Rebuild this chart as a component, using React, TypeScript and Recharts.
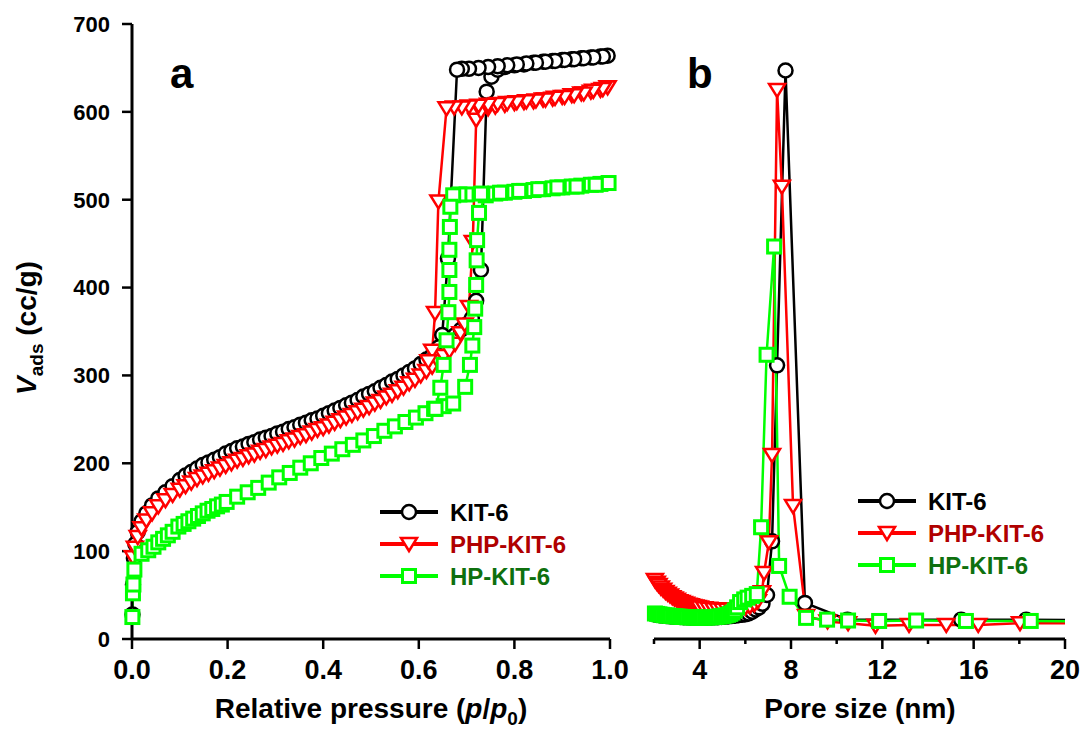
import React from "react";
import { LineChart, Line, XAxis, YAxis, Legend } from "recharts";

const FONT = "'Liberation Sans', Arial, Helvetica, sans-serif";

// (a) N2 isotherms: [p/p0, V_ads (cc/g)], adsorption branch first, then desorption
const kit6Isotherm: [number, number][] = [
  [0.001, 28], [0.002, 62], [0.004, 92], [0.007, 108], [0.012, 122], [0.02, 134], [0.03, 143],
  [0.042, 152], [0.055, 160], [0.07, 167], [0.085, 174], [0.1, 181], [0.112, 186], [0.124, 190],
  [0.136, 194], [0.148, 198], [0.16, 201], [0.172, 204], [0.184, 207], [0.196, 211], [0.208, 214],
  [0.22, 217], [0.232, 219], [0.244, 222], [0.256, 224], [0.268, 227], [0.28, 229], [0.292, 231],
  [0.304, 234], [0.316, 236], [0.328, 239], [0.34, 241], [0.352, 244], [0.364, 246], [0.376, 249],
  [0.388, 251], [0.4, 254], [0.412, 257], [0.424, 260], [0.436, 263], [0.448, 266], [0.46, 269],
  [0.472, 272], [0.484, 276], [0.496, 279], [0.508, 282], [0.52, 286], [0.532, 289], [0.544, 293],
  [0.556, 296], [0.568, 300], [0.58, 304], [0.592, 308], [0.604, 313], [0.616, 318], [0.628, 323],
  [0.64, 328], [0.652, 334], [0.664, 340], [0.676, 346], [0.688, 352], [0.7, 358], [0.711, 365],
  [0.72, 385], [0.73, 420], [0.742, 623], [0.752, 640], [0.765, 648], [0.78, 651], [0.8, 653],
  [0.82, 654], [0.84, 656], [0.86, 657], [0.88, 658], [0.9, 659], [0.92, 660], [0.94, 661],
  [0.96, 662], [0.98, 663], [0.995, 664],
  [0.985, 663], [0.965, 662], [0.945, 661], [0.925, 660], [0.905, 659], [0.885, 658], [0.865, 657],
  [0.845, 656], [0.825, 655], [0.805, 654], [0.785, 653], [0.765, 652], [0.745, 651], [0.725, 650],
  [0.705, 649], [0.69, 649], [0.68, 648], [0.661, 433], [0.649, 346], [0.642, 332], [0.635, 325],
];

const phpIsotherm: [number, number][] = [
  [0.002, 93], [0.006, 104], [0.012, 116], [0.02, 126], [0.03, 135], [0.042, 143], [0.055, 151],
  [0.07, 158], [0.085, 164], [0.1, 170], [0.112, 174], [0.124, 178], [0.136, 182], [0.148, 185],
  [0.16, 188], [0.172, 191], [0.184, 194], [0.196, 197], [0.208, 200], [0.22, 203], [0.232, 205],
  [0.244, 208], [0.256, 210], [0.268, 213], [0.28, 215], [0.292, 218], [0.304, 220], [0.316, 222],
  [0.328, 225], [0.34, 227], [0.352, 230], [0.364, 232], [0.376, 235], [0.388, 238], [0.4, 240],
  [0.412, 243], [0.424, 246], [0.436, 249], [0.448, 252], [0.46, 255], [0.472, 258], [0.484, 261],
  [0.496, 264], [0.508, 268], [0.52, 271], [0.532, 275], [0.544, 278], [0.556, 282], [0.568, 286],
  [0.58, 291], [0.592, 295], [0.604, 300], [0.616, 305], [0.628, 310], [0.64, 316], [0.652, 322],
  [0.664, 328], [0.676, 336], [0.687, 348], [0.696, 358], [0.705, 378], [0.713, 452], [0.72, 591],
  [0.73, 600], [0.745, 604], [0.76, 606], [0.78, 608], [0.8, 610], [0.82, 611], [0.84, 612],
  [0.86, 614], [0.88, 615], [0.9, 617], [0.92, 619], [0.94, 621], [0.96, 623], [0.98, 625],
  [0.995, 628],
  [0.985, 626], [0.965, 624], [0.945, 621], [0.925, 619], [0.905, 617], [0.885, 616], [0.865, 614],
  [0.845, 613], [0.825, 612], [0.805, 611], [0.785, 610], [0.765, 609], [0.745, 608], [0.725, 607],
  [0.705, 606], [0.69, 605], [0.674, 605], [0.658, 604], [0.641, 498], [0.634, 371], [0.628, 328],
  [0.62, 316],
];

const hpIsotherm: [number, number][] = [
  [0.0008, 25], [0.002, 52], [0.003, 62], [0.005, 79], [0.02, 97], [0.034, 101], [0.045, 105],
  [0.055, 110], [0.065, 114], [0.075, 118], [0.085, 122], [0.097, 128], [0.108, 131], [0.118, 134],
  [0.128, 137], [0.138, 140], [0.148, 143], [0.158, 146], [0.168, 148], [0.178, 151], [0.188, 153],
  [0.198, 156], [0.22, 162], [0.242, 167], [0.264, 172], [0.286, 178], [0.308, 184], [0.33, 189],
  [0.352, 195], [0.374, 200], [0.396, 206], [0.418, 211], [0.44, 216], [0.462, 221], [0.484, 226],
  [0.506, 231], [0.528, 237], [0.55, 242], [0.572, 247], [0.594, 252], [0.614, 257], [0.632, 262],
  [0.652, 265], [0.672, 268], [0.697, 287], [0.707, 312], [0.712, 334], [0.716, 355], [0.718, 376],
  [0.72, 403], [0.721, 431], [0.722, 454], [0.726, 485], [0.74, 505], [0.76, 507], [0.78, 508],
  [0.8, 509], [0.82, 510], [0.84, 511], [0.86, 512], [0.88, 513], [0.9, 514], [0.92, 515],
  [0.94, 516], [0.96, 517], [0.98, 518], [0.997, 519],
  [0.97, 517], [0.93, 515], [0.89, 514], [0.85, 512], [0.81, 510], [0.77, 508], [0.73, 507],
  [0.7, 506], [0.685, 506], [0.672, 505], [0.666, 492], [0.665, 469], [0.664, 443], [0.664, 420],
  [0.664, 395], [0.662, 372], [0.658, 340], [0.652, 312], [0.645, 286], [0.635, 262],
];

// (b) pore size distributions: [pore size (nm), value on the shared 0-700 scale]
const kit6Pores: [number, number][] = [
  [2.1, 27.5], [2.25, 27], [2.4, 26.5], [2.55, 26], [2.7, 25.8], [2.85, 25.5], [3.0, 25.3],
  [3.15, 25], [3.3, 24.8], [3.45, 24.6], [3.6, 24.5], [3.75, 24.4], [3.9, 24.3], [4.05, 24.3],
  [4.2, 24.3], [4.35, 24.4], [4.5, 24.5], [4.65, 24.6], [4.8, 24.8], [4.95, 25], [5.1, 25.3],
  [5.25, 25.6], [5.4, 26], [5.55, 26.5], [5.7, 27], [5.85, 27.5], [6.0, 28], [6.15, 29],
  [6.3, 31], [6.45, 33.5], [6.6, 36], [6.75, 40], [6.95, 50], [7.17, 111], [7.39, 311],
  [7.76, 646], [8.61, 41], [10.47, 22], [15.45, 22], [18.3, 22], [22, 21],
];

const phpPores: [number, number][] = [
  [2.04, 67], [2.12, 64], [2.2, 61.5], [2.3, 58.5], [2.4, 56], [2.5, 53.5], [2.6, 51.5],
  [2.7, 49.5], [2.8, 47.5], [2.9, 46], [3.0, 44.5], [3.1, 43], [3.2, 42], [3.3, 41], [3.4, 40],
  [3.5, 39], [3.6, 38.3], [3.7, 37.6], [3.8, 37], [3.9, 36.4], [4.0, 35.8], [4.2, 35], [4.4, 34.3],
  [4.6, 33.8], [4.8, 33.4], [5.0, 33.2], [5.2, 33.2], [5.4, 33.4], [5.6, 33.8], [5.8, 34.5],
  [6.0, 35.5], [6.2, 37], [6.4, 39.5], [6.55, 43], [6.73, 53], [6.82, 75], [7.03, 110],
  [7.17, 209], [7.39, 624], [7.6, 514], [8.09, 151], [8.66, 26], [9.6, 20], [10.5, 18],
  [11.7, 15], [13.17, 16], [14.8, 16], [16.2, 16], [18.03, 18], [22, 18],
];

const hpPores: [number, number][] = [
  [2.04, 29], [2.14, 28.5], [2.24, 28], [2.34, 27.5], [2.44, 27], [2.54, 26.8], [2.64, 26.5],
  [2.74, 26.2], [2.84, 26], [2.94, 25.8], [3.04, 25.5], [3.14, 25.3], [3.24, 25.1], [3.34, 25],
  [3.44, 24.8], [3.54, 24.7], [3.64, 24.6], [3.74, 24.5], [3.84, 24.5], [3.94, 24.4], [4.04, 24.4],
  [4.14, 24.4], [4.24, 24.5], [4.34, 24.5], [4.44, 24.6], [4.54, 24.8], [4.64, 25], [4.74, 25.2],
  [4.84, 25.5], [4.94, 25.8], [5.04, 26.2], [5.14, 26.8], [5.24, 27.5], [5.34, 28.5], [5.44, 30],
  [5.54, 32.5], [5.64, 36], [5.77, 42], [5.95, 45], [6.1, 47], [6.3, 49], [6.5, 51], [6.69, 127],
  [6.93, 323], [7.26, 446], [7.48, 83], [7.94, 48], [8.66, 24], [9.58, 22], [10.5, 21],
  [11.86, 20.5], [13.48, 21], [15.66, 20.5], [18.5, 20.5], [22, 20],
];

const pressureTicks = [0, 0.2, 0.4, 0.6, 0.8, 1];
const volumeTicks = [0, 100, 200, 300, 400, 500, 600, 700];
const poreTicks = [2, 4, 6, 8, 10, 12, 14, 16, 18, 20];

const seriesNames = ["KIT-6", "PHP-KIT-6", "HP-KIT-6"];
const lineColors = ["#000000", "#ff0000", "#00ff00"];
const labelColors = ["#000000", "#b00000", "#0e700e"];
const markerShapes = ["circle", "triangle", "square"];

const toPoints = (rows: [number, number][]) => rows.map(([x, y]) => ({ x, y }));

const axisStyle = { stroke: "#000", strokeWidth: 3 };
const tickStyle = { stroke: "#000", strokeWidth: 2.5 };
const xTickFont = { fill: "#000", fontSize: 27, fontWeight: 700, fontFamily: FONT };
const yTickFont = { fill: "#000", fontSize: 22, fontWeight: 700, fontFamily: FONT };

function Marker({ shape, cx, cy, color }: { shape: string; cx: number; cy: number; color: string }) {
  if (cx == null || cy == null) return null;
  if (shape === "circle") {
    return <circle cx={cx} cy={cy} r={7} fill="#fff" stroke={color} strokeWidth={2.5} />;
  }
  if (shape === "triangle") {
    return (
      <polygon
        points={`${cx - 8},${cy - 6} ${cx + 8},${cy - 6} ${cx},${cy + 7}`}
        fill="#fff"
        stroke={color}
        strokeWidth={2.5}
      />
    );
  }
  return <rect x={cx - 6.5} y={cy - 6.5} width={13} height={13} fill="#fff" stroke={color} strokeWidth={3} />;
}

const dotFor = (i: number) => (props: any) => (
  <Marker key={`m-${i}-${props.index}`} shape={markerShapes[i]} cx={props.cx} cy={props.cy} color={lineColors[i]} />
);

// legend drawn as its own little svg inside the recharts legend wrapper
function SeriesKey() {
  return (
    <svg width={200} height={100} style={{ overflow: "visible" }}>
      {seriesNames.map((name, i) => (
        <g key={name} transform={`translate(0, ${14 + i * 32})`}>
          <line x1={2} y1={0} x2={60} y2={0} stroke={lineColors[i]} strokeWidth={4} />
          <Marker shape={markerShapes[i]} cx={31} cy={0} color={lineColors[i]} />
          <text
            x={72}
            y={0}
            dy="0.36em"
            fill={labelColors[i]}
            fontSize={24}
            fontWeight={700}
            fontFamily={FONT}
          >
            {name}
          </text>
        </g>
      ))}
    </svg>
  );
}

// minor ticks every 2 nm, labels every 4 nm
function PoreTick(props: any) {
  const { x, y, payload } = props;
  const v = payload.value;
  const major = v % 4 === 0;
  return (
    <g>
      <line x1={x} y1={y} x2={x} y2={y + (major ? 10 : 5)} stroke="#000" strokeWidth={2.5} />
      {major && v !== 2 && (
        <text x={x} y={y + 40} textAnchor="middle" {...xTickFont}>
          {v}
        </text>
      )}
    </g>
  );
}

function IsothermPanel() {
  const series = [kit6Isotherm, phpIsotherm, hpIsotherm];
  return (
    <LineChart width={640} height={751} margin={{ top: 24, right: 30, bottom: 52, left: 72 }}>
      <XAxis
        type="number"
        dataKey="x"
        domain={[0, 1]}
        ticks={pressureTicks}
        interval={0}
        tickFormatter={(v: number) => v.toFixed(1)}
        height={60}
        axisLine={axisStyle}
        tickLine={tickStyle}
        tickSize={10}
        tickMargin={11}
        tick={xTickFont}
      />
      <XAxis xAxisId="top" orientation="top" type="number" domain={[0, 1]} height={0} tick={false} tickLine={false} axisLine={axisStyle} />
      <YAxis
        type="number"
        domain={[0, 700]}
        ticks={volumeTicks}
        interval={0}
        width={60}
        axisLine={axisStyle}
        tickLine={tickStyle}
        tickSize={10}
        tickMargin={12}
        tick={yTickFont}
      />
      <YAxis yAxisId="right" orientation="right" type="number" domain={[0, 700]} width={0} tick={false} tickLine={false} axisLine={axisStyle} />
      {series.map((rows, i) => (
        <Line
          key={seriesNames[i]}
          data={toPoints(rows)}
          dataKey="y"
          stroke={lineColors[i]}
          strokeWidth={2.5}
          dot={dotFor(i)}
          activeDot={false}
          isAnimationActive={false}
        />
      ))}
      <Legend
        content={() => <SeriesKey />}
        align="center"
        verticalAlign="middle"
        wrapperStyle={{ left: 378, top: 498, width: 200, height: 100 }}
      />
    </LineChart>
  );
}

function PorePanel() {
  const series = [kit6Pores, phpPores, hpPores];
  return (
    <LineChart width={445} height={751} margin={{ top: 23, right: 20, bottom: 52, left: 14 }}>
      <XAxis
        type="number"
        dataKey="x"
        domain={[2, 20]}
        allowDataOverflow
        ticks={poreTicks}
        interval={0}
        height={60}
        axisLine={axisStyle}
        tickLine={false}
        tickSize={0}
        tickMargin={0}
        tick={<PoreTick />}
      />
      <XAxis xAxisId="m" type="number" dataKey="x" domain={[2, 20]} hide />
      <XAxis xAxisId="top" orientation="top" type="number" domain={[2, 20]} height={0} tick={false} tickLine={false} axisLine={axisStyle} />
      <YAxis type="number" domain={[0, 700]} width={0} tick={false} tickLine={false} axisLine={axisStyle} />
      <YAxis yAxisId="right" orientation="right" type="number" domain={[0, 700]} width={0} tick={false} tickLine={false} axisLine={axisStyle} />
      {series.map((rows, i) => [
        <Line
          key={`${seriesNames[i]}-line`}
          data={toPoints(rows)}
          dataKey="y"
          stroke={lineColors[i]}
          strokeWidth={2.5}
          dot={false}
          activeDot={false}
          isAnimationActive={false}
        />,
        <Line
          key={`${seriesNames[i]}-marks`}
          xAxisId="m"
          data={toPoints(rows.filter(([x]) => x <= 20))}
          dataKey="y"
          stroke="none"
          dot={dotFor(i)}
          activeDot={false}
          isAnimationActive={false}
        />,
      ])}
      <Legend
        content={() => <SeriesKey />}
        align="center"
        verticalAlign="middle"
        wrapperStyle={{ left: 216, top: 487, width: 200, height: 100 }}
      />
    </LineChart>
  );
}

export default function App() {
  const titleFont = { fontFamily: FONT, fontWeight: 700, fill: "#000" };
  return (
    <div style={{ position: "absolute", left: 0, top: 0, width: 1085, height: 751, background: "#fff" }}>
      <div style={{ position: "absolute", left: 0, top: 0 }}>
        <IsothermPanel />
      </div>
      <div style={{ position: "absolute", left: 640, top: 0 }}>
        <PorePanel />
      </div>
      <svg width={1085} height={751} style={{ position: "absolute", left: 0, top: 0, pointerEvents: "none" }}>
        <text x={170} y={88} fontSize={42} {...titleFont}>a</text>
        <text x={687} y={88} fontSize={42} {...titleFont}>b</text>
        <text x={371} y={718} textAnchor="middle" fontSize={28} {...titleFont}>
          Relative pressure (<tspan fontStyle="italic">p</tspan>/<tspan fontStyle="italic">p</tspan>
          <tspan fontSize={19} dy={7}>0</tspan>
          <tspan dy={-7}>)</tspan>
        </text>
        <text x={860} y={718} textAnchor="middle" fontSize={28} {...titleFont}>
          Pore size (nm)
        </text>
        <text transform="translate(36, 328) rotate(-90)" textAnchor="middle" fontSize={28} {...titleFont}>
          <tspan fontStyle="italic">V</tspan>
          <tspan fontSize={19} dy={7}>ads</tspan>
          <tspan dy={-7}> (cc/g)</tspan>
        </text>
      </svg>
    </div>
  );
}
